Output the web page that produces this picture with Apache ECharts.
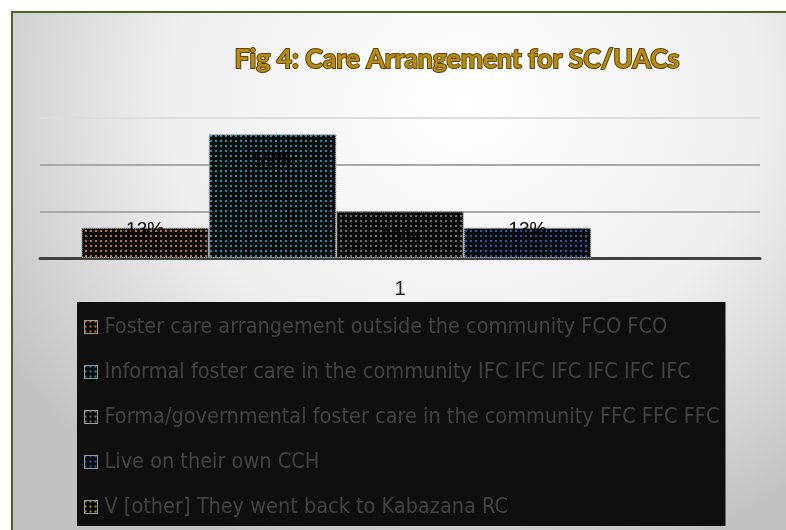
<!DOCTYPE html>
<html>
<head>
<meta charset="utf-8">
<script src="https://cdn.jsdelivr.net/npm/echarts@6/dist/echarts.min.js"></script>
<style>
  html, body { margin: 0; padding: 0; background: #fff; }
  #frame {
    position: absolute; left: 11px; top: 11px; width: 790px; height: 530px;
    border-left: 2px solid #4f6228; border-top: 2px solid #4f6228;
    background: radial-gradient(ellipse 540px 480px at 450px 90px, #ffffff 0%, #eeeeee 55%, #c2c2c2 100%);
  }
  #main { position: absolute; left: 0; top: 0; width: 786px; height: 530px; }
</style>
</head>
<body>
<div id="frame"></div>
<div id="main"></div>
<script>
// chart data
const categories = ['1'];
const seriesNames = [
    'Foster care arrangement outside the community FCO FCO',
    'Informal foster care in the community IFC IFC IFC IFC IFC IFC',
    'Forma/governmental foster care in the community FFC FFC FFC',
    'Live on their own CCH',
    'V [other] They went back to Kabazana RC'
];
const seriesValues = [13, 53, 20, 13, 0];
const yTicks = [0, 20, 40, 60];

const dotColors = ['#b87620', '#1a94aa', '#6e6e6e', '#1562b8', '#a09228'];

const myChart = echarts.init(document.getElementById('main'));

const series = seriesNames.map((name, i) => ({
    name: name,
    type: 'bar',
    data: [seriesValues[i]],
    barGap: '0%',
    barCategoryGap: '11.5%',
    itemStyle: {
        color: '#0a0a0a',
        borderColor: '#b0b0b0',
        borderType: 'dotted',
        borderWidth: seriesValues[i] > 0 ? 1 : 0,
        decal: {
            symbol: 'rect',
            symbolSize: 1,
            dashArrayX: [1.5, 2.5],
            dashArrayY: [1.5, 2.5],
            color: dotColors[i]
        }
    },
    label: {
        show: seriesValues[i] > 0,
        position: seriesValues[i] > 15 ? 'insideTop' : 'top',
        distance: seriesValues[i] > 15 ? 17 : -12,
        formatter: '{c}%',
        color: '#000',
        fontFamily: 'Liberation Sans',
        fontSize: 19
    }
}));

const option = {
    backgroundColor: 'transparent',
    animation: false,
    title: {
        text: 'Fig 4: Care Arrangement for SC/UACs',
        left: 452,
        top: 41,
        textAlign: 'center',
        textStyle: {
            fontFamily: 'Lato',
            fontWeight: 'bold',
            fontSize: 26.5,
            color: '#bb8a10',
            textBorderColor: '#5a480a',
            textBorderWidth: 2
        }
    },
    grid: {
        left: 40,
        right: 26,
        top: 118,
        bottom: 272,
        containLabel: false
    },
    xAxis: {
        type: 'category',
        data: categories,
        axisLine: { lineStyle: { color: '#404040', width: 3 } },
        axisTick: { show: false },
        axisLabel: {
            color: '#222',
            fontFamily: 'Liberation Sans',
            fontSize: 20,
            margin: 21
        }
    },
    yAxis: {
        type: 'value',
        min: yTicks[0],
        max: yTicks[yTicks.length - 1],
        interval: 20,
        axisLabel: { show: false },
        axisLine: { show: false },
        axisTick: { show: false },
        splitLine: {
            lineStyle: { color: ['#a8a8a8', '#a8a8a8', '#a8a8a8', '#dcdcdc'], width: 2 }
        }
    },
    legend: {
        orient: 'vertical',
        left: 77,
        top: 302,
        backgroundColor: '#0f0f0f',
        padding: [14, 6, 8, 7],
        itemGap: 23,
        itemWidth: 13,
        itemHeight: 13,
        icon: 'rect',
        itemStyle: { borderColor: '#cccccc', borderType: 'dotted', borderWidth: 1 },
        textStyle: {
            color: '#434343',
            fontFamily: 'DejaVu Sans Condensed, sans-serif',
            fontSize: 21.5,
            padding: [0, 0, 0, 2]
        },
        data: seriesNames
    },
    series: series
};
myChart.setOption(option);
</script>
</body>
</html>
